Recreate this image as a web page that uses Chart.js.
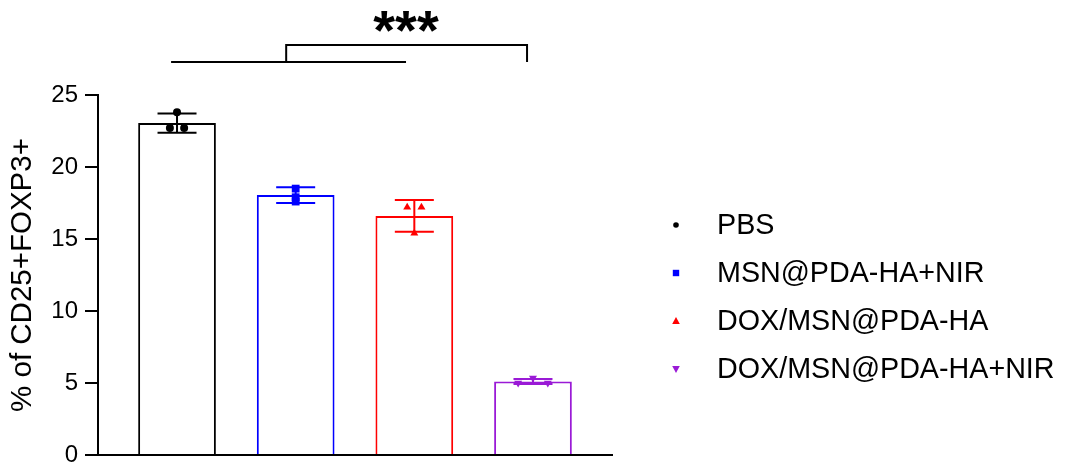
<!DOCTYPE html>
<html>
<head>
<meta charset="utf-8">
<script src="https://cdn.jsdelivr.net/npm/chart.js@4.4.1/dist/chart.umd.min.js"></script>
<style>
  html, body { margin: 0; padding: 0; background: #fff; }
  #wrap { width: 1068px; height: 464px; }
</style>
</head>
<body>
<div id="wrap"><canvas id="c" width="1068" height="464"></canvas></div>
<script>
// ---- data ----
const categories = ['PBS', 'MSN@PDA-HA+NIR', 'DOX/MSN@PDA-HA', 'DOX/MSN@PDA-HA+NIR'];
const means = [23.05, 18.05, 16.6, 5.1];
const sds = [0.67, 0.55, 1.1, 0.17];
const pointsPBS = [23.8, 22.7, 22.7];
const pointsMSN = [18.5, 17.9, 17.6];
const pointsDOX = [17.2, 17.2, 15.4];
const pointsDOXNIR = [5.35, 5.0, 5.0];
const yTicks = [0, 5, 10, 15, 20, 25];
const yTitle = '% of CD25+FOXP3+';
const sigLabel = '***';

// ---- styles ----
const colors = ['#000000', '#0000ff', '#ff0000', '#9a1ad6'];
const pointStyles = ['circle', 'rect', 'triangle', 'triangle'];
const pointRot = [0, 0, 0, 180];
const pointRadius = [4, 5.5, 4.6, 4.6];
const jitter = [[0, -0.06, 0.06], [0, 0, 0], [-0.06, 0.06, 0], [0, -0.125, 0.125]];
const FONT = '"Liberation Sans", Arial, sans-serif';

const groupPoints = [pointsPBS, pointsMSN, pointsDOX, pointsDOXNIR];

const datasets = [{
  type: 'bar',
  label: 'mean',
  data: means.map((v, i) => ({ x: i, y: v })),
  backgroundColor: '#ffffff',
  borderColor: colors,
  borderWidth: 2,
  barPercentage: 0.655,
  categoryPercentage: 1,
  order: 10
}];
groupPoints.forEach((pts, g) => {
  datasets.push({
    type: 'scatter',
    label: categories[g],
    data: pts.map((v, k) => ({ x: g + jitter[g][k], y: v })),
    pointStyle: pointStyles[g],
    rotation: pointRot[g],
    radius: pointRadius[g],
    backgroundColor: colors[g],
    borderColor: colors[g],
    borderWidth: 0,
    order: 1
  });
});

const errorBars = {
  id: 'errorBars',
  afterDatasetDraw(chart, args) {
    if (args.index !== 0) return;
    const ctx = chart.ctx, xs = chart.scales.x, ys = chart.scales.y;
    ctx.save();
    ctx.lineWidth = 2;
    means.forEach((m, i) => {
      const x = xs.getPixelForValue(i);
      const yt = ys.getPixelForValue(m + sds[i]);
      const yb = ys.getPixelForValue(m - sds[i]);
      const hw = 19.5;
      ctx.strokeStyle = colors[i];
      ctx.beginPath();
      ctx.moveTo(x, yt); ctx.lineTo(x, yb);
      ctx.moveTo(x - hw, yt); ctx.lineTo(x + hw, yt);
      ctx.moveTo(x - hw, yb); ctx.lineTo(x + hw, yb);
      ctx.stroke();
    });
    ctx.restore();
  }
};

const annotations = {
  id: 'annotations',
  afterDraw(chart) {
    const ctx = chart.ctx, xs = chart.scales.x, ys = chart.scales.y;
    ctx.save();
    // significance bracket
    ctx.strokeStyle = '#000';
    ctx.lineWidth = 2;
    const yLow = ys.getPixelForValue(27.3);
    const yHigh = ys.getPixelForValue(28.47);
    ctx.beginPath();
    ctx.moveTo(xs.getPixelForValue(-0.05), yLow);
    ctx.lineTo(xs.getPixelForValue(1.93), yLow);
    ctx.moveTo(xs.getPixelForValue(0.92), yLow);
    ctx.lineTo(xs.getPixelForValue(0.92), yHigh);
    ctx.lineTo(xs.getPixelForValue(2.95), yHigh);
    ctx.lineTo(xs.getPixelForValue(2.95), yLow);
    ctx.stroke();
    ctx.fillStyle = '#000';
    ctx.font = 'bold 56px ' + FONT;
    ctx.textAlign = 'center';
    ctx.textBaseline = 'alphabetic';
    ctx.fillText(sigLabel, xs.getPixelForValue(1.93), ys.getPixelForValue(28.2));

    // legend
    const lx = 676, tx = 717, rows = [225, 273, 321, 369];
    ctx.font = '28.7px ' + FONT;
    ctx.textAlign = 'left';
    ctx.textBaseline = 'middle';
    categories.forEach((c, i) => {
      const y = rows[i];
      ctx.fillStyle = colors[i];
      ctx.beginPath();
      if (i === 0) {
        ctx.arc(lx, y, 2.8, 0, Math.PI * 2);
      } else if (i === 1) {
        ctx.rect(lx - 3.2, y - 3.2, 6.4, 6.4);
      } else if (i === 2) {
        ctx.moveTo(lx, y - 4); ctx.lineTo(lx + 3.8, y + 3); ctx.lineTo(lx - 3.8, y + 3); ctx.closePath();
      } else {
        ctx.moveTo(lx, y + 4); ctx.lineTo(lx + 3.8, y - 3); ctx.lineTo(lx - 3.8, y - 3); ctx.closePath();
      }
      ctx.fill();
      ctx.fillStyle = '#000';
      ctx.fillText(c, tx, y + 1);
    });
    ctx.restore();
  }
};

new Chart(document.getElementById('c'), {
  type: 'bar',
  data: { datasets },
  plugins: [errorBars, annotations],
  options: {
    responsive: false,
    animation: false,
    devicePixelRatio: 1,
    layout: { padding: { top: 95, right: 456, bottom: 9, left: 0 } },
    plugins: { legend: { display: false }, tooltip: { enabled: false } },
    scales: {
      x: {
        type: 'linear',
        offset: false,
        min: -0.666,
        max: 3.666,
        afterBuildTicks(s) { s.ticks = categories.map((c, i) => ({ value: i })); },
        ticks: { display: false },
        grid: { display: false, drawTicks: false, offset: false },
        border: { display: true, color: '#000', width: 2 },
        afterFit(s) { s.height = 0; s.paddingLeft = 0; s.paddingRight = 0; }
      },
      y: {
        type: 'linear',
        min: 0,
        max: 25,
        afterBuildTicks(s) { s.ticks = yTicks.map(v => ({ value: v })); },
        ticks: {
          color: '#000',
          padding: 7,
          font: { family: FONT, size: 24 }
        },
        grid: { display: true, drawOnChartArea: false, drawTicks: true, tickLength: 13, color: '#000', lineWidth: 2 },
        border: { display: true, color: '#000', width: 2 },
        title: {
          display: true,
          text: yTitle,
          color: '#000',
          font: { family: FONT, size: 29.5 },
          padding: { top: 5, bottom: 0 }
        },
        afterFit(s) { s.width = 98; s.paddingTop = 0; s.paddingBottom = 0; }
      }
    }
  }
});
</script>
</body>
</html>
